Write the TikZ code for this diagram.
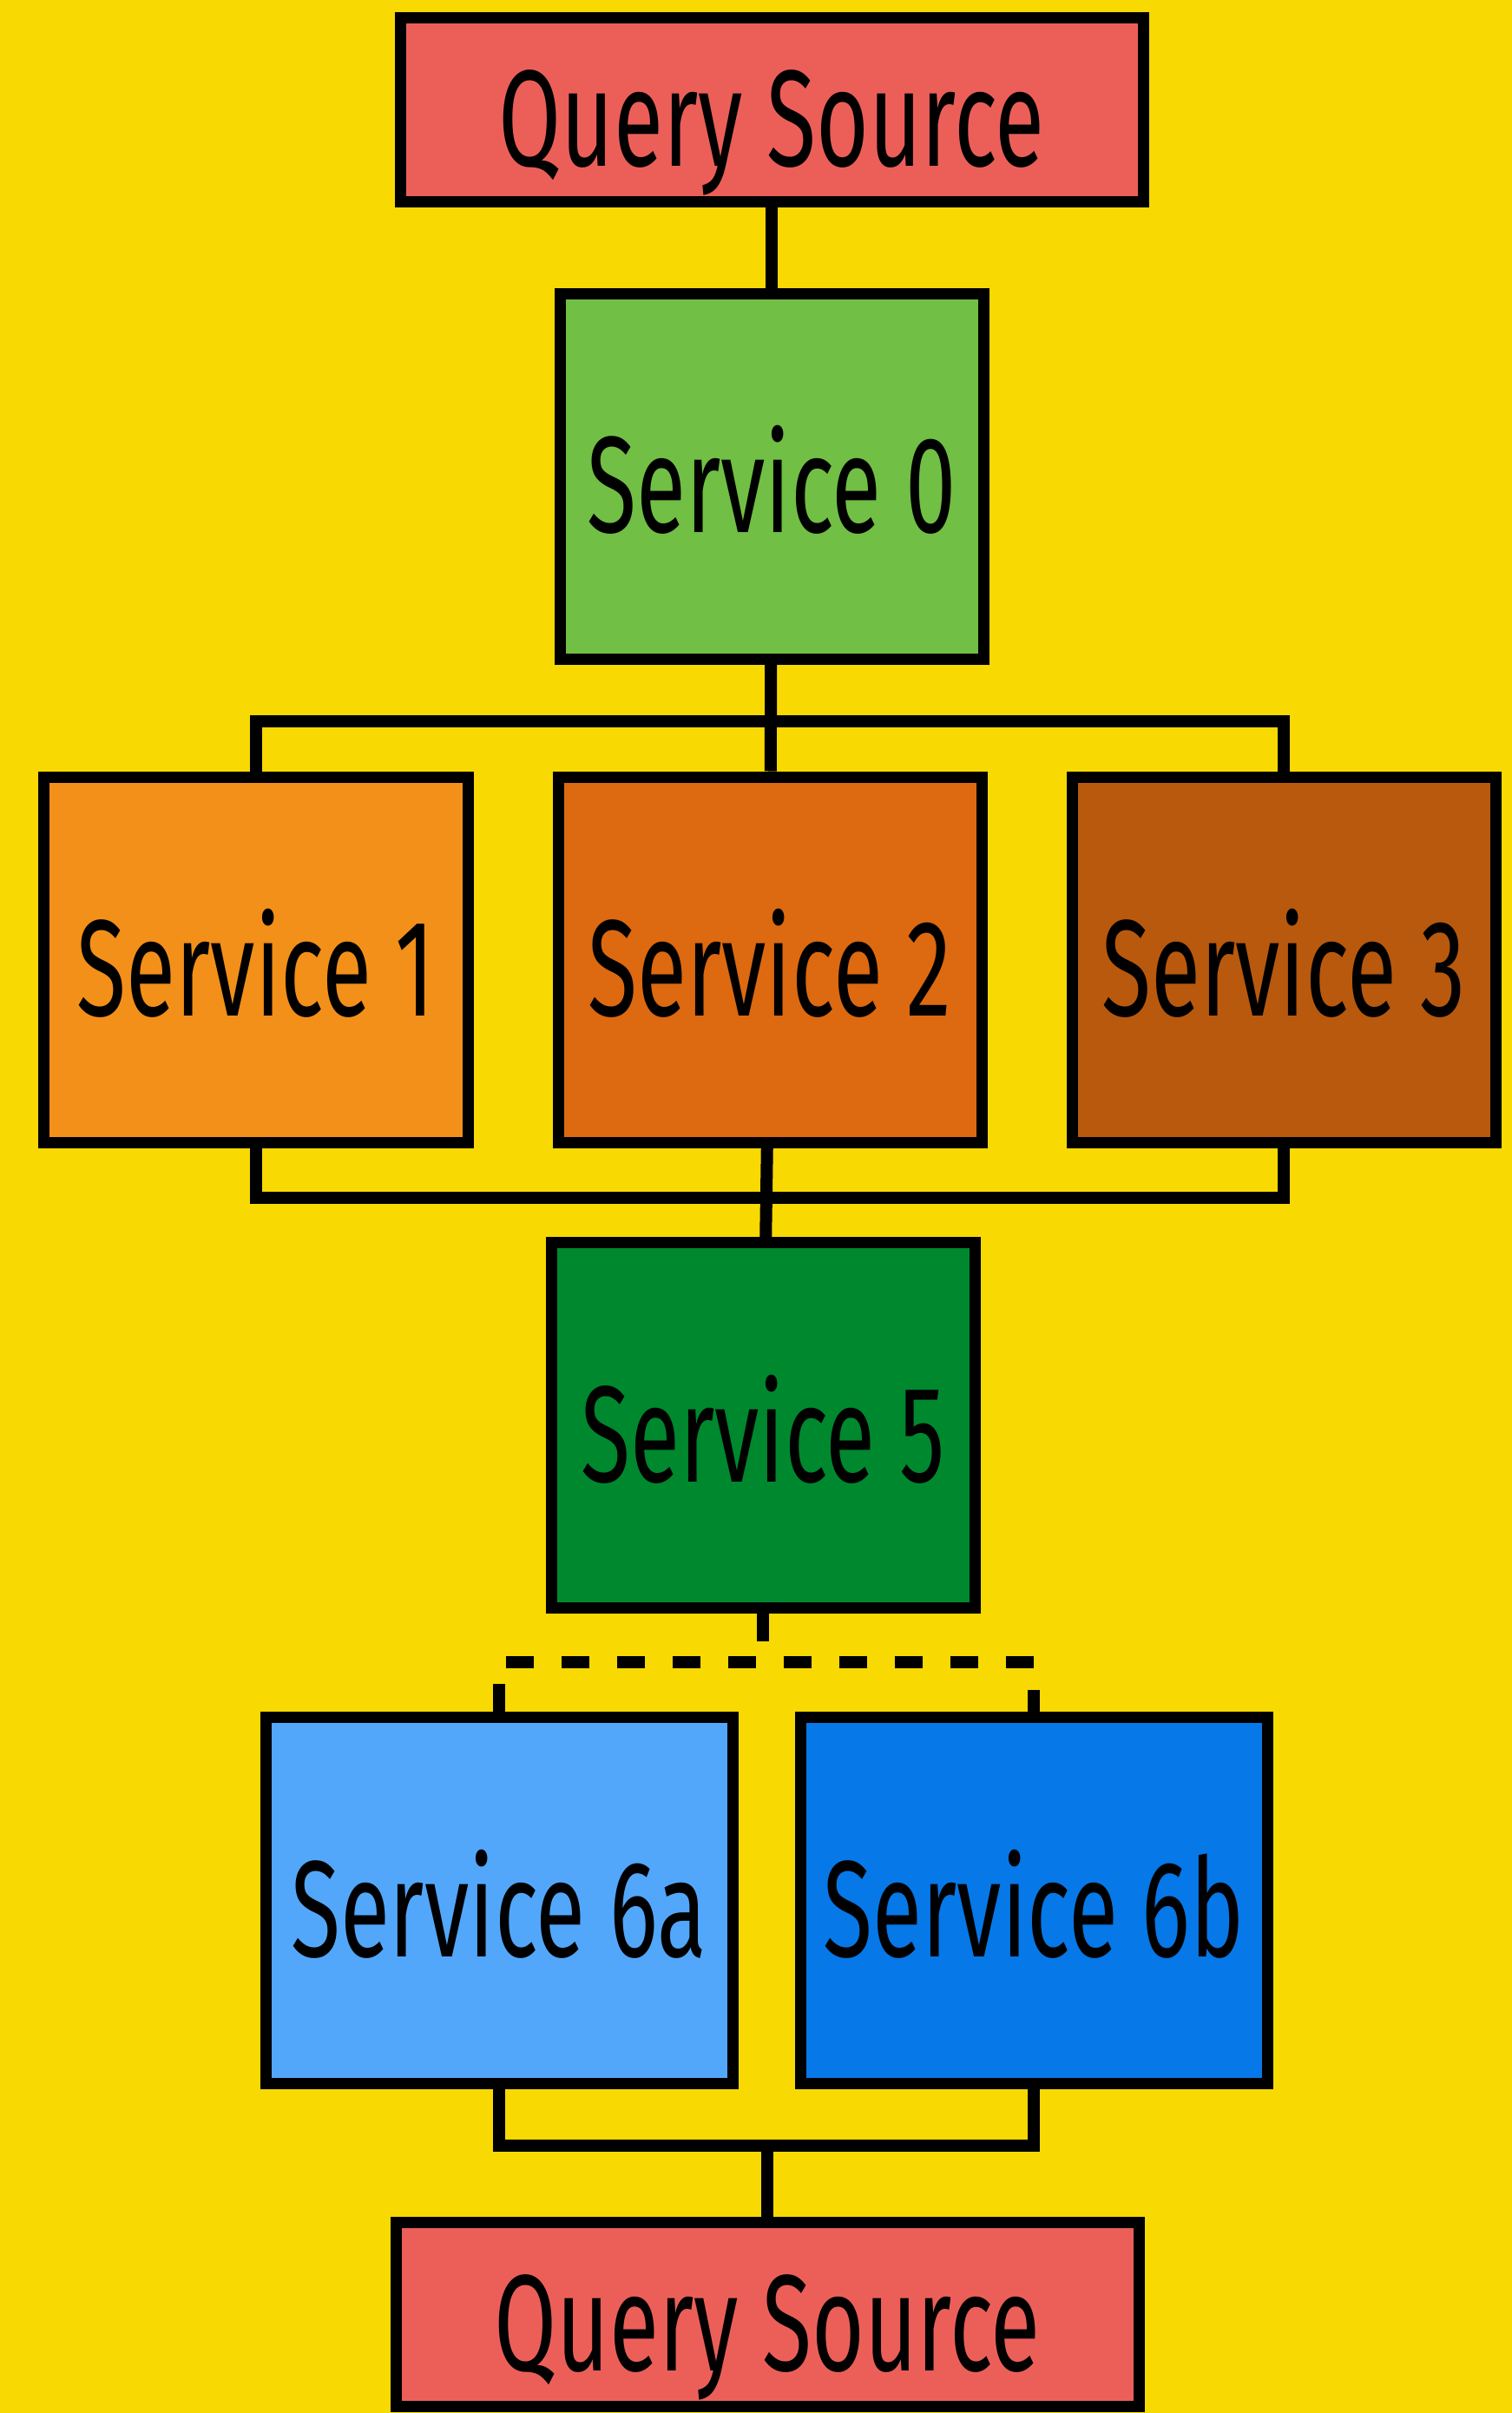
\documentclass[tikz,border=0pt]{standalone}
\usepackage{fontspec}
\newfontfamily\boxfont{Fira Sans}[FakeStretch=0.66]

\definecolor{bgyellow}{HTML}{F8D902}
\definecolor{queryred}{HTML}{EC5F59}
\definecolor{svczero}{HTML}{71BF44}
\definecolor{svcone}{HTML}{F39019}
\definecolor{svctwo}{HTML}{DD6910}
\definecolor{svcthree}{HTML}{B9590E}
\definecolor{svcfive}{HTML}{00882E}
\definecolor{svcsixa}{HTML}{52A7FA}
\definecolor{svcsixb}{HTML}{0678E8}

\begin{document}
\begin{tikzpicture}[node distance=5.92cm,
	box/.style={draw=black,line width=1.3mm,inner sep=0pt,text height=1.4cm,text depth=0.1cm,
		font=\boxfont\fontsize{45}{54}\selectfont},
	query/.style={box,fill=queryred,minimum width=8.56cm,minimum height=2.12cm},
	service/.style={box,minimum width=4.88cm,minimum height=4.21cm},
	wide/.style={box,minimum width=5.38cm,minimum height=4.22cm},
	link/.style={line width=1.4mm},
	dashlink/.style={link,dash pattern=on 3.2mm off 3.2mm}]

\fill[bgyellow] (0,0) rectangle (17.42,-27.80);
\useasboundingbox (0,0) rectangle (17.42,-27.80);

\node[query]   (qs1) at (8.89,-1.265)      				{Query Source};
\node[service,fill=svczero]   (s0)[below of=qs1,node distance=4.22cm]      				{Service 0};
\node[service,fill=svctwo]   (s2)[below of=s0,node distance=5.57cm,xshift=-0.02cm]      				{Service 2};
\node[service,fill=svcone]   (s1)[left of=s2]      				{Service 1};
\node[service,fill=svcthree]   (s3)[right of=s2]      				{Service 3};
\node[service,fill=svcfive]   (s5)[below of=s2,node distance=5.365cm,xshift=-0.08cm]      				{Service 5};

\node[wide,fill=svcsixa]   (s6a)[below of=s5,node distance=5.47cm,xshift=-3.04cm]      				{Service 6a};
\node[wide,fill=svcsixb]   (s6b)[right of=s6a,node distance=6.16cm]      				{Service 6b};
\node[query]   (qs2)[below of=s5,node distance=10.24cm,xshift=0.05cm]      				{Query Source};

\coordinate[below of=s0,node distance=2.825cm] (bus1);
\coordinate[below of=s2,node distance=2.745cm] (bus2);
\coordinate[below of=s5,node distance=2.73cm] (fork);
\coordinate[above of=qs2,node distance=1.94cm] (bus3);

	\draw[link] (qs1) -- (s0);
	\draw[link] (s0) -- (s2);
	\draw[link] (s1.north) |- (bus1) -| (s3.north);
	\draw[link] (s1.south) |- (bus2) -| (s3.south);
	\draw[link] (s2) -- (s5);
	\draw[dashlink] (s5.south) -- (fork);
	\draw[dashlink] (s6a.north) |- (fork) -| (s6b.north);
	\draw[link] (s6a.south) |- (bus3) -| (s6b.south);
	\draw[link] (bus3) -- (qs2);
\end{tikzpicture}
\end{document}
